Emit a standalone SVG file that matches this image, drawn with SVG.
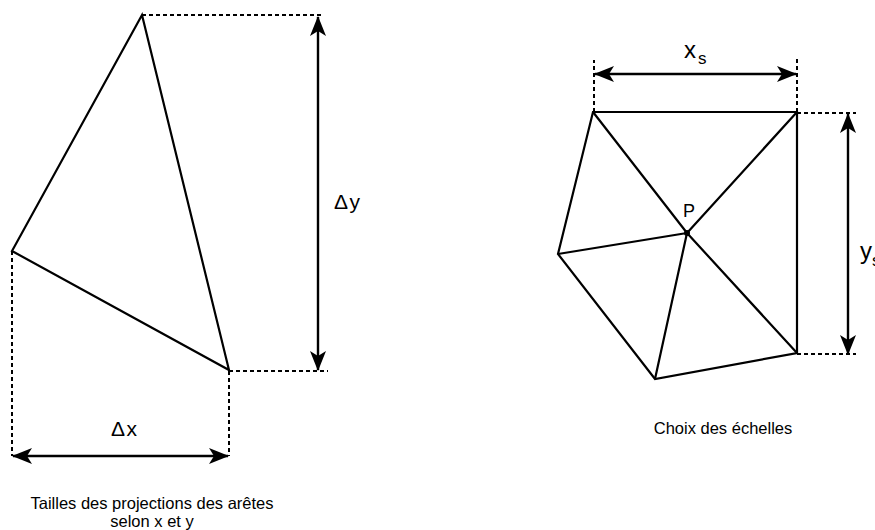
<svg xmlns="http://www.w3.org/2000/svg" width="875" height="530" viewBox="0 0 875 530">
<defs>
<marker id="ah" viewBox="0 0 20 16" refX="19" refY="8" markerWidth="20" markerHeight="16" markerUnits="userSpaceOnUse" orient="auto-start-reverse">
<path d="M0,0 L20,8 L0,16 L5,8 Z" fill="#000"/>
</marker>
</defs>
<style>
.edge{fill:none;stroke:#000;stroke-width:2.2;stroke-linejoin:miter}
.dash{fill:none;stroke:#000;stroke-width:2;stroke-dasharray:4,3}
.dim{fill:none;stroke:#000;stroke-width:2.4;marker-start:url(#ah);marker-end:url(#ah)}
text{font-family:"Liberation Sans",Arial,sans-serif;fill:#000}
.lbl{font-size:21px;letter-spacing:1.5px}
.cap{font-size:16.5px;text-anchor:middle}
</style>
<rect width="875" height="530" fill="#fff"/>
<g id="triangle">
<polygon class="edge" points="142,15 12,251 229,370"/>
</g>
<g id="triangle-mesh">
<polygon class="edge" points="593,112 797,112 797,353 655,379 558,254"/>
<path class="edge" d="M687,233 L593,112 M687,233 L797,112 M687,233 L558,254 M687,233 L655,379 M687,233 L797,353"/>
<circle cx="687" cy="233" r="3" fill="#000"/>
</g>
<g id="connectors">
<path class="dash" d="M142,15 H322 M229,371 H328 M12,251 V456 M229,371 V456"/>
<path class="dim" d="M318,17 V370"/>
<path class="dim" d="M13,456 H228"/>
<path class="dash" d="M594,112 V60 M797,112 V58 M797,113 H856 M797,354 H856"/>
<path class="dim" d="M595,74 H796"/>
<path class="dim" d="M848,114 V354"/>
</g>
<g id="labels">
<text class="lbl" x="334" y="209">Δy</text>
<text class="lbl" x="111" y="436">Δx</text>
<text x="684" y="58" font-size="24px">x<tspan font-size="17px" dx="2" dy="6">s</tspan></text>
<text x="860" y="259" font-size="24px">y<tspan font-size="17px" dy="7">s</tspan></text>
<text x="683" y="217" font-size="18px">P</text>
<text class="cap" x="152" y="509">Tailles des projections des arêtes</text>
<text class="cap" x="152" y="527">selon x et y</text>
<text class="cap" x="723" y="434">Choix des échelles</text>
</g>
</svg>
